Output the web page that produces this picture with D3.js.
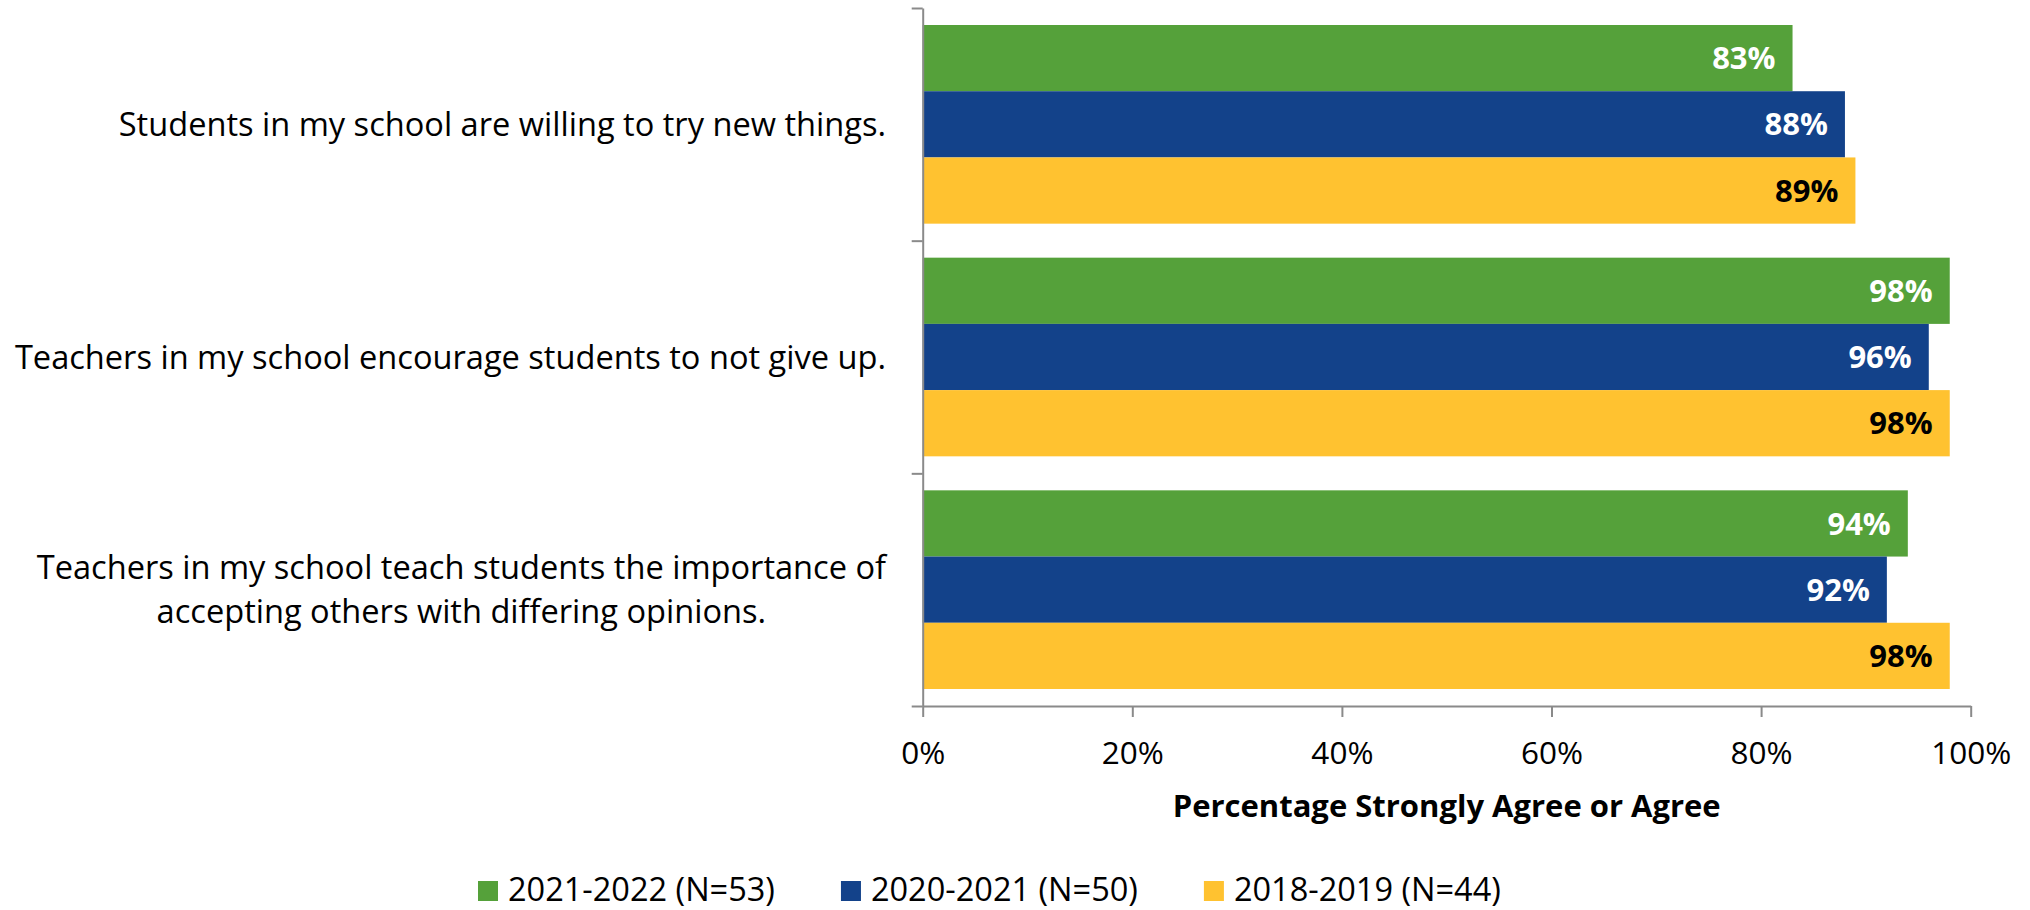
<!DOCTYPE html>
<html>
<head>
<meta charset="utf-8">
<script src="https://cdn.jsdelivr.net/npm/d3@7"></script>
<style>
    body { margin: 0; background: #fff; }
    svg text { font-family: "Open Sans", "Noto Sans", sans-serif; fill: #000; }
</style>
</head>
<body>
<div id="chart"></div>
<script>
// data
const categories = [
    "Students in my school are willing to try new things.",
    "Teachers in my school encourage students to not give up.",
    "Teachers in my school teach students the importance of\naccepting others with differing opinions."
];
const seriesNames = ["2021-2022 (N=53)", "2020-2021 (N=50)", "2018-2019 (N=44)"];
const values2122 = [83, 98, 94];
const values2021 = [88, 96, 92];
const values1819 = [89, 98, 98];
const xTicks = [0, 20, 40, 60, 80, 100];
const axisTitle = "Percentage Strongly Agree or Agree";

const colors = ['#55A13A', '#13428A', '#FFC230'];
const labelColors = ['#fff', '#fff', '#000'];

const width = 2030, height = 910;
const plot = { left: 922.7, right: 1970.7, top: 8, bottom: 706 };

const series = seriesNames.map((name, i) => ({
    name: name,
    values: [values2122, values2021, values1819][i]
}));

const svg = d3.select('#chart')
    .append('svg')
    .attr('width', width)
    .attr('height', height);

const x = d3.scaleLinear().domain([0, 100]).range([plot.left, plot.right]);
const y0 = d3.scaleBand().domain(categories).range([plot.top, plot.bottom]);
const pad = 17;
const y1 = d3.scaleBand().domain(seriesNames).range([pad, y0.bandwidth() - pad]);

// bars
const groups = svg.append('g').selectAll('g')
    .data(categories)
    .join('g')
    .attr('transform', d => `translate(0, ${y0(d)})`);

groups.each(function (cat, ci) {
    const g = d3.select(this);
    series.forEach((s, si) => {
        const v = s.values[ci];
        g.append('rect')
            .attr('x', x(0))
            .attr('y', y1(s.name))
            .attr('width', x(v) - x(0))
            .attr('height', y1.bandwidth())
            .attr('fill', colors[si]);
        g.append('text')
            .attr('x', x(v) - 17)
            .attr('y', y1(s.name) + y1.bandwidth() / 2)
            .attr('dy', '0.36em')
            .attr('text-anchor', 'end')
            .style('font-size', '31px')
            .style('font-weight', 'bold')
            .style('fill', labelColors[si])
            .text(v + '%');
    });
});

// x axis
const xAxis = svg.append('g')
    .attr('transform', `translate(0, ${plot.bottom})`)
    .call(d3.axisBottom(x)
        .tickValues(xTicks)
        .tickFormat(d => d + '%')
        .tickSize(11)
        .tickSizeOuter(0)
        .tickPadding(25));
xAxis.selectAll('text').style('font-size', '31.5px');

// y axis, ticks on the category boundaries
const yEdges = d3.scaleLinear().domain([0, categories.length]).range([plot.top, plot.bottom]);
svg.append('g')
    .attr('transform', `translate(${plot.left}, 0)`)
    .call(d3.axisLeft(yEdges)
        .tickValues(d3.range(categories.length + 1))
        .tickFormat('')
        .tickSize(11)
        .tickSizeOuter(0));

svg.selectAll('.domain, .tick line')
    .attr('stroke', '#8a8a8a')
    .attr('stroke-width', 2);

// category labels: right-aligned block, wrapped lines centred
const labelRight = 886;
const lineH = 44;
categories.forEach(cat => {
    const lines = cat.split('\n');
    const cy = y0(cat) + y0.bandwidth() / 2;
    const t = svg.append('g');
    const texts = lines.map((ln, i) => t.append('text')
        .attr('y', cy + (i - (lines.length - 1) / 2) * lineH)
        .attr('dy', '0.36em')
        .attr('text-anchor', 'middle')
        .style('font-size', '32.6px')
        .text(ln));
    const maxW = d3.max(texts, tx => tx.node().getComputedTextLength());
    texts.forEach(tx => tx.attr('x', labelRight - maxW / 2));
});

// axis title
svg.append('text')
    .attr('x', (plot.left + plot.right) / 2)
    .attr('y', 817)
    .attr('text-anchor', 'middle')
    .style('font-size', '31px')
    .style('font-weight', 'bold')
    .text(axisTitle);

// legend
const legend = svg.append('g').attr('transform', 'translate(478, 881)');
let lx = 0;
series.forEach((s, i) => {
    legend.append('rect')
        .attr('x', lx)
        .attr('y', 0)
        .attr('width', 20)
        .attr('height', 20)
        .attr('fill', colors[i]);
    const t = legend.append('text')
        .attr('x', lx + 30)
        .attr('y', 20)
        .style('font-size', '32.5px')
        .text(s.name);
    lx += 30 + t.node().getComputedTextLength() + 66;
});
</script>
</body>
</html>
